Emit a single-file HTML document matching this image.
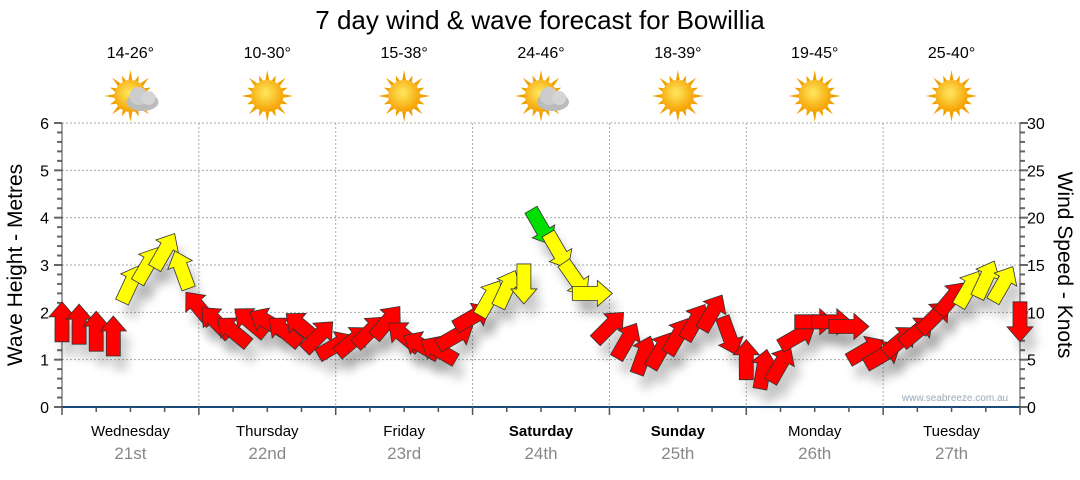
<!DOCTYPE html>
<html><head><meta charset="utf-8">
<style>
body{margin:0;background:#fff;width:1080px;height:475px;overflow:hidden;font-family:"Liberation Sans",sans-serif;}
svg text{font-family:"Liberation Sans",sans-serif;}
</style></head><body>
<svg id="c" width="1080" height="475">
<defs>
<filter id="sh" x="-50%" y="-50%" width="200%" height="200%"><feGaussianBlur stdDeviation="5"/></filter>
<radialGradient id="sun" cx="45%" cy="40%" r="60%"><stop offset="0" stop-color="#ffe860"/><stop offset="1" stop-color="#f5a000"/></radialGradient>
</defs>
<text x="540" y="29" text-anchor="middle" font-size="26" fill="#000">7 day wind &amp; wave forecast for Bowillia</text>
<g id="grid"></g><g id="axes"></g><g id="icons"></g><g id="shadows"></g><g id="arrows"></g>
<text x="955" y="401" text-anchor="middle" font-size="10" fill="#9ab">www.seabreeze.com.au</text>
<text transform="translate(22,265) rotate(-90)" text-anchor="middle" font-size="21">Wave Height - Metres</text>
<text transform="translate(1058,265) rotate(90)" text-anchor="middle" font-size="21">Wind Speed - Knots</text>
</svg>
<script>
const days=["Wednesday","Thursday","Friday","Saturday","Sunday","Monday","Tuesday"];
const dates=["21st","22nd","23rd","24th","25th","26th","27th"];
const temps=["14-26°","10-30°","15-38°","24-46°","18-39°","19-45°","25-40°"];
const cloudy=[1,0,0,1,0,0,0];
const waveTicks=[0,1,2,3,4,5,6];
const windTicks=[0,5,10,15,20,25,30];
const hours=[0,3,6,9,12,15,18,21,24,27,30,33,36,39,42,45,48,51,54,57,60,63,66,69,72,75,78,81,84,87,90,93,96,99,102,105,108,111,114,117,120,123,126,129,132,135,138,141,144,147,150,153,156,159,162,165,168];
const waveH=[1.8,1.75,1.6,1.5,2.6,3.0,3.3,2.9,2.1,1.8,1.6,1.8,1.8,1.6,1.7,1.5,1.3,1.4,1.6,1.8,1.5,1.3,1.2,1.5,1.9,2.3,2.5,2.6,3.8,3.3,2.7,2.4,1.7,1.4,1.1,1.2,1.5,1.8,2.0,1.5,1.0,0.8,0.9,1.5,1.8,1.8,1.7,1.2,1.1,1.4,1.6,1.9,2.3,2.5,2.7,2.6,1.8];
const dirs=[0,0,0,0,25,30,30,-20,-40,-45,-50,-50,-60,-50,-50,45,60,50,45,40,-50,-60,-60,60,60,30,25,180,150,150,145,90,45,30,20,30,30,30,30,160,0,10,30,60,90,90,90,60,60,50,50,45,40,30,25,30,180];
const wind=[10,10,10,10,13,14,15,13,10,9,9,9,9,9,9,9,9,9,9,9,9,9,9,9,10,13,13,14,20,16,14,13,10,9,9,9,9,9,9,9,9,9,9,9,9,9,9,9,9,9,9,9,10,13,13,13,10];
const X0=62,X1=1020,Y0=407,Y1=123;
const xs=t=>X0+(X1-X0)*t/168, yw=h=>Y0-(Y0-Y1)*h/6, yk=k=>Y0-(Y0-Y1)*k/30;
const NS="http://www.w3.org/2000/svg";
function mk(tag,attrs,parent){const e=document.createElementNS(NS,tag);for(const k in attrs)e.setAttribute(k,attrs[k]);parent.appendChild(e);return e;}
const grid=document.getElementById('grid'),axes=document.getElementById('axes'),icons=document.getElementById('icons');
waveTicks.forEach(v=>{
 if(v>0){const l=mk('line',{x1:X0,x2:X1,y1:yw(v),y2:yw(v),stroke:'#aaa','stroke-dasharray':'2,2'},grid);
 }
 const t=mk('text',{x:49,y:yw(v)+6,'text-anchor':'end','font-size':16},axes);t.textContent=v;
 
});
windTicks.forEach(v=>{const t=mk('text',{x:1027,y:yk(v)+6,'font-size':16},axes);t.textContent=v;
 });
for(let i=0;i<=30;i++){const y=Y0-(Y0-Y1)*i/30;const w=i%5==0?8:5;
 mk('line',{x1:X0-w,x2:X0,y1:y,y2:y,stroke:'#666','stroke-width':2},axes);
 mk('line',{x1:X1,x2:X1+w,y1:y,y2:y,stroke:'#666','stroke-width':2},axes);}
mk('line',{x1:X0,x2:X0,y1:Y1,y2:Y0,stroke:'#444'},axes);
mk('line',{x1:X1,x2:X1,y1:Y1,y2:Y0,stroke:'#444'},axes);
mk('line',{x1:X0,x2:X1,y1:Y0,y2:Y0,stroke:'#1a4a7a','stroke-width':2},axes);
for(let h=0;h<=168;h+=6){mk('line',{x1:xs(h),x2:xs(h),y1:Y0,y2:Y0+(h%24==0?8:5),stroke:'#555','stroke-width':1.5},axes);}
days.forEach((d,i)=>{
 if(i>0){const l=mk('line',{x1:xs(i*24),x2:xs(i*24),y1:Y1,y2:Y0,stroke:'#aaa','stroke-dasharray':'2,2'},grid);
 }
 const cx=xs(i*24+12);
 const t=mk('text',{x:cx,y:436,'text-anchor':'middle','font-size':15,'font-weight':(d=="Saturday"||d=="Sunday")?'bold':'normal'},axes);t.textContent=d;
 
 const t2=mk('text',{x:cx,y:459,'text-anchor':'middle','font-size':17,fill:'#888'},axes);t2.textContent=dates[i];
 
 const t3=mk('text',{x:cx,y:58,'text-anchor':'middle','font-size':16},icons);t3.textContent=temps[i];
 
 const g=mk('g',{transform:`translate(${cx},96)`},icons);
 
 for(let a=0;a<16;a++){const r1=16,r2=a%2?22:26,an=a*Math.PI/8,w=0.12;
  mk('polygon',{points:`${r1*Math.sin(an-w)},${-r1*Math.cos(an-w)} ${r2*Math.sin(an)},${-r2*Math.cos(an)} ${r1*Math.sin(an+w)},${-r1*Math.cos(an+w)}`,fill:'#f0a000'},g);}
 mk('circle',{r:16,fill:'url(#sun)'},g);
 if(cloudy[i]){mk('ellipse',{cx:12,cy:6,rx:16,ry:9,fill:'#bbb'},g);mk('circle',{cx:8,cy:0,r:9,fill:'#ccc'},g);mk('circle',{cx:18,cy:2,r:7,fill:'#d4d4d4'},g);}
});
const sh=document.getElementById('shadows'),ar=document.getElementById('arrows');
const pts="0,-20 13,-5 7,-5 7,20 -7,20 -7,-5 -13,-5";
hours.forEach((t,i)=>{
 const x=xs(t),y=yw(waveH[i]),k=wind[i];
 const col=k>=18?'#00e000':k>=12?'#ffff00':'#ff0000';
 mk('polygon',{points:pts,transform:`translate(${x+7},${y+14}) rotate(${dirs[i]})`,fill:'#000',opacity:0.2,filter:'url(#sh)'},sh);
 const p=mk('polygon',{points:pts,transform:`translate(${x},${y}) rotate(${dirs[i]})`,fill:col,stroke:'#333','stroke-width':0.8},ar);
 
 
});
</script>
</body></html>
